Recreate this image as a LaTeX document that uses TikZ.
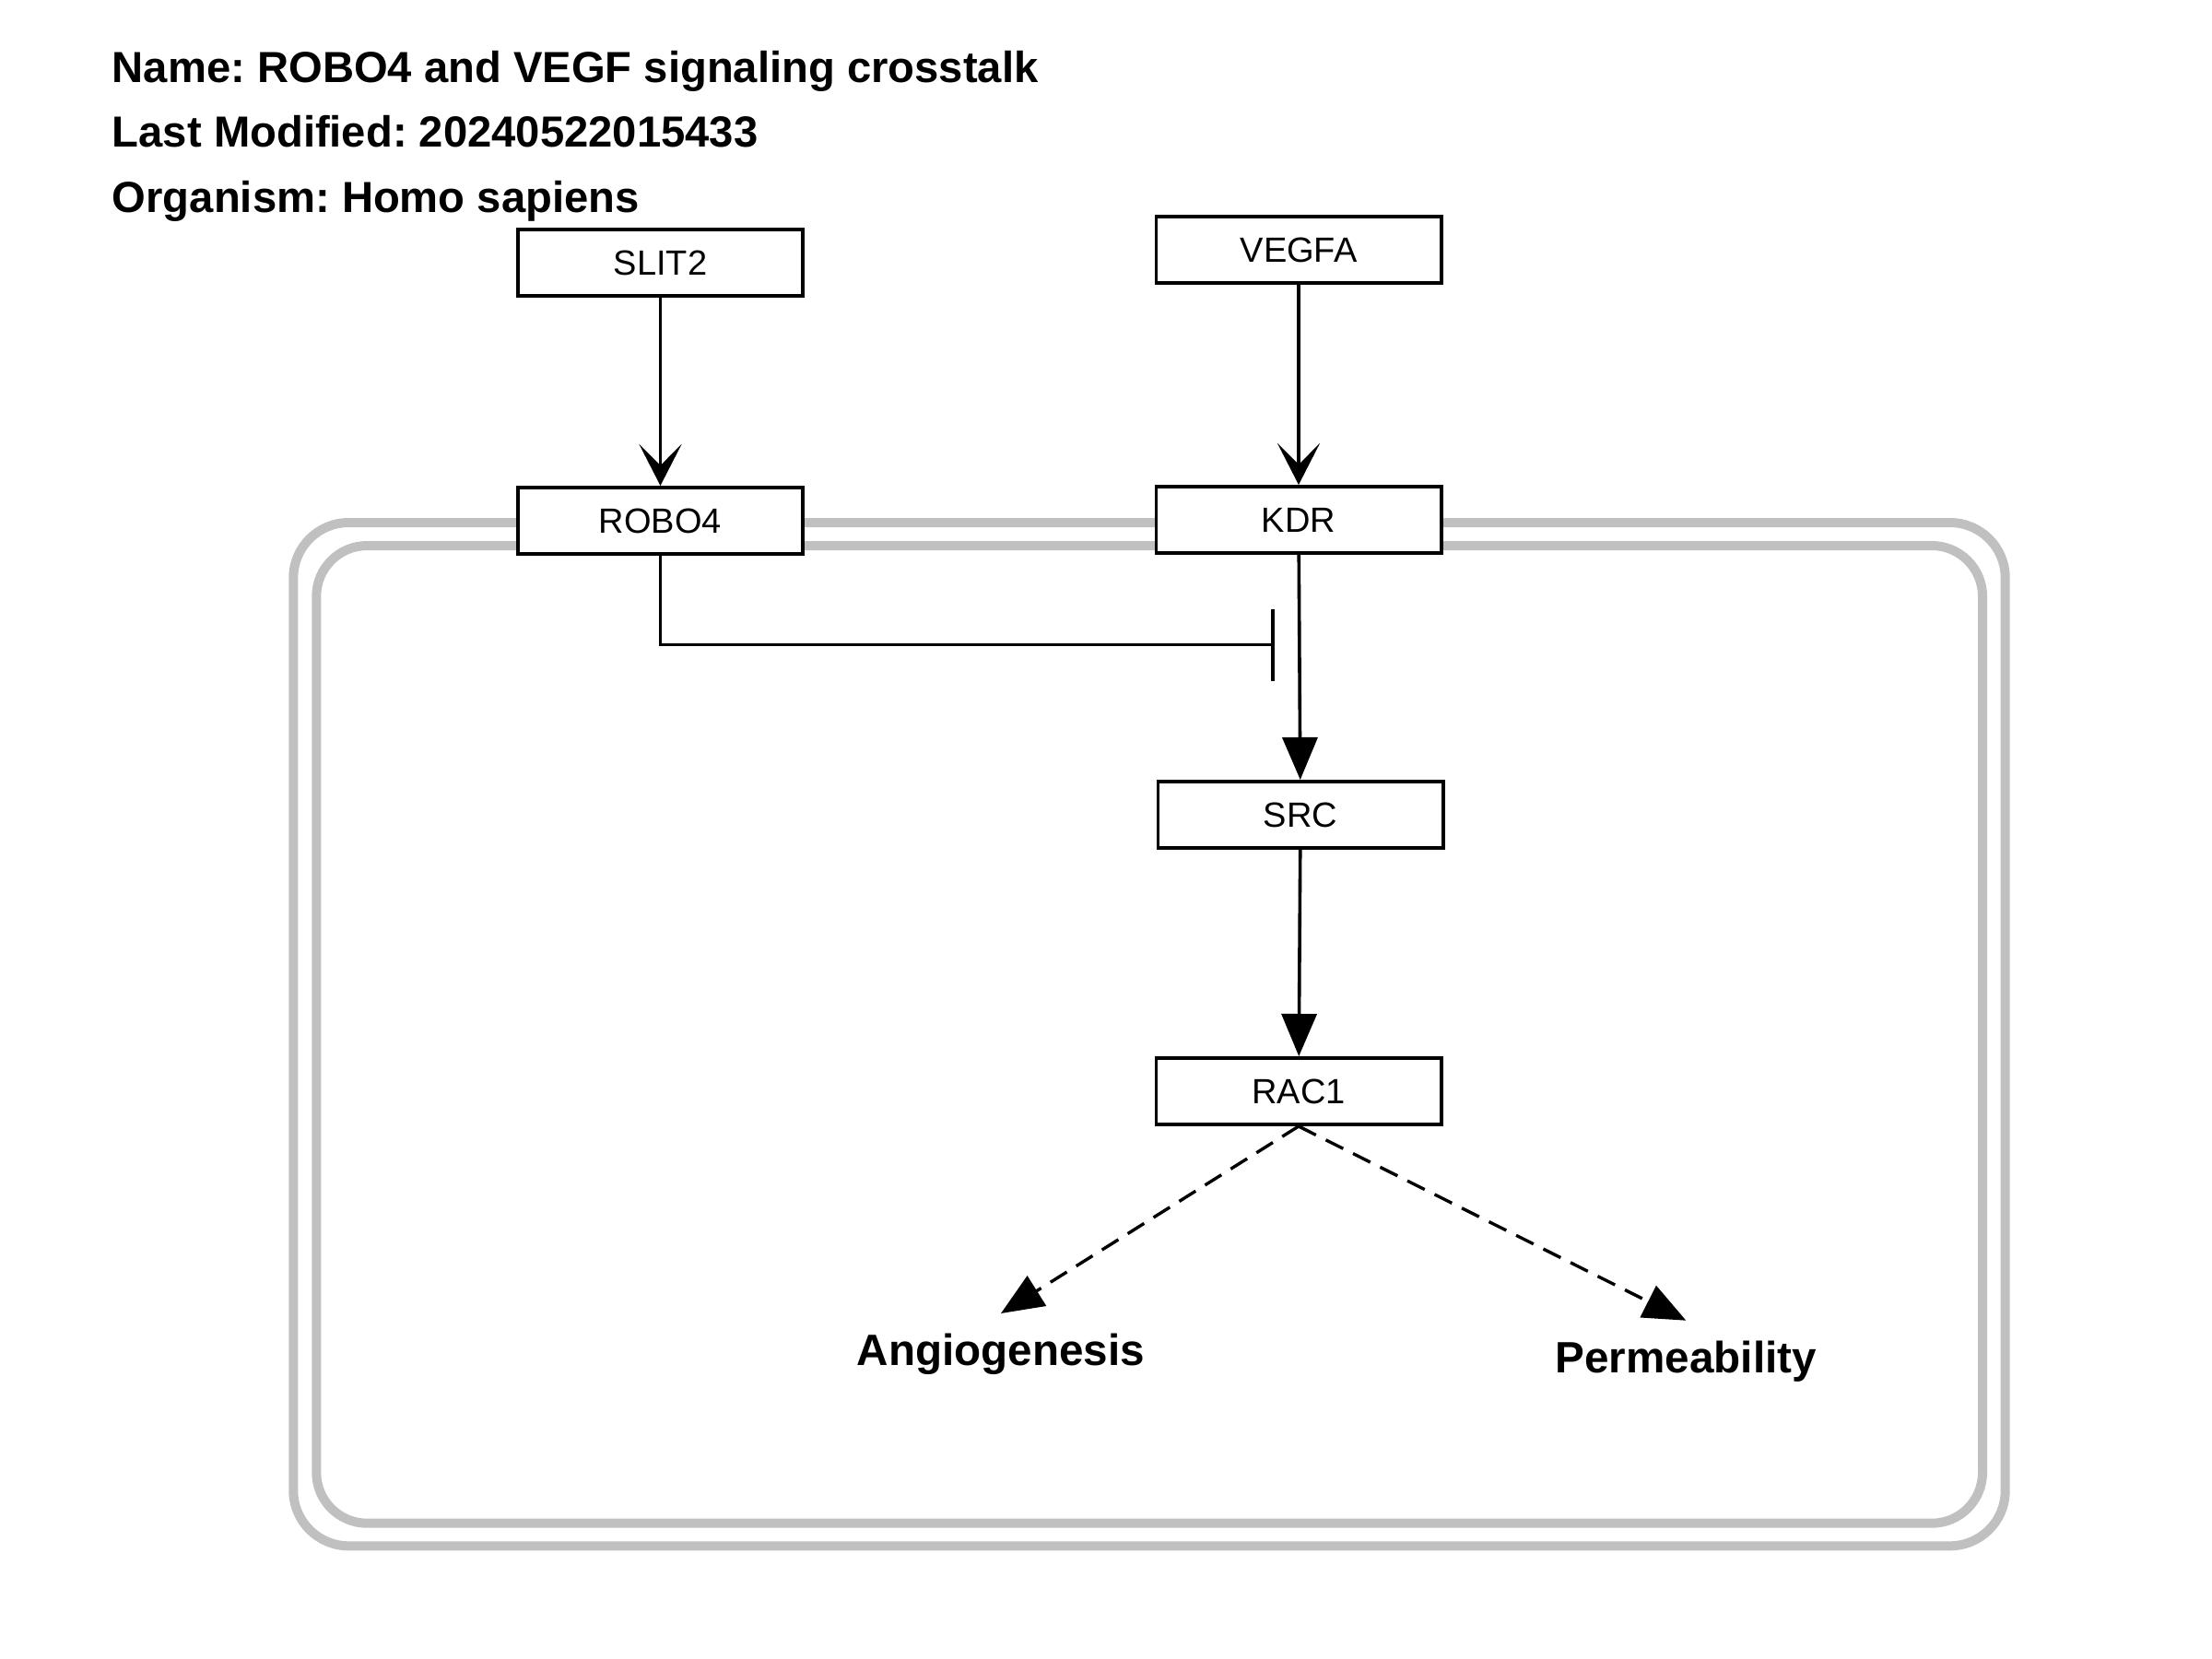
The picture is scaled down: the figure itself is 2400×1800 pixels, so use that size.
\documentclass[tikz,border=0pt]{standalone}
\usepackage{fontspec}
\setmainfont{Liberation Sans}
\usepackage{xcolor}
\usetikzlibrary{positioning}
\usetikzlibrary{arrows.meta}
\usetikzlibrary{calc}
\definecolor{membranegray}{HTML}{C0C0C0}
\frenchspacing

\tikzset{
  gene/.style={draw, line width=1.8pt, fill=white, minimum width=154.7pt, minimum height=36.2pt, inner sep=0pt, font=\fontsize{19}{22}\selectfont},
  header/.style={anchor=base west, inner sep=0pt, font=\fontsize{23.6}{28}\selectfont\bfseries},
  outcome/.style={anchor=north, inner xsep=0pt, inner ysep=10.8pt, font=\fontsize{23.8}{28}\selectfont\bfseries},
  membrane/.style={draw=membranegray, line width=5pt},
  binding/.style={line width=1.8pt, -{Stealth[length=22.5pt, width=23pt, inset=11.5pt]}},
  activation/.style={line width=1.8pt, -{Triangle[length=23pt, width=19pt]}},
  inhibition/.style={line width=1.8pt, -{Bar[width=39pt]}},
  effect/.style={line width=1.7pt, dash pattern=on 10.5pt off 6pt, -{Triangle[length=23pt, width=19pt]}}
}

\begin{document}
\begin{tikzpicture}[x=0.5pt, y=-0.5pt]
        \useasboundingbox (0,0) rectangle (2400,1800);

        % cell membrane
        \draw[membrane, rounded corners=30pt] (318.3,567) rectangle (2175.7,1677.3);
        \draw[membrane, rounded corners=27.5pt] (343.3,592) rectangle (2151,1652.7);

        \node[header] (title_name) at (121.5,89) {Name: ROBO4 and VEGF signaling crosstalk};
        \node[header] (title_modified) at (121.5,159) {Last Modified: 20240522015433};
        \node[header] (title_organism) at (121.5,230.5) {Organism: Homo sapiens};

        \node[gene] (slit2) at (716.5,285) {SLIT2};
        \node[gene] (robo4) [below=102pt of slit2] {ROBO4};
        \node[gene] (vegfa) at (1409,271) {VEGFA};
        \node[gene] (kdr) [below=108.5pt of vegfa] {KDR};
        \node[gene] (src) [below=122pt of kdr, xshift=1pt] {SRC};
        \node[gene] (rac1) [below=112pt of src, xshift=-1pt] {RAC1};

        \node[outcome] (angiogenesis) at (1086,1425) {Angiogenesis};
        \node[outcome] (permeability) at (1829.3,1432.7) {Permeability};

        \draw[binding] (slit2) -- (robo4);
        \draw[binding] (vegfa) -- (kdr);
        \draw[activation] (kdr) -- (src);
        \draw[activation] (src) -- (rac1);

        \coordinate (src_block) at ($(kdr.south)!0.4!(src.north) + (-13.5pt,0)$);
        \draw[inhibition] (robo4.south) |- (src_block);

        \draw[effect] (rac1.south) -- (angiogenesis.north);
        \draw[effect] (rac1.south) -- (permeability.north);
    \end{tikzpicture}
\end{document}
